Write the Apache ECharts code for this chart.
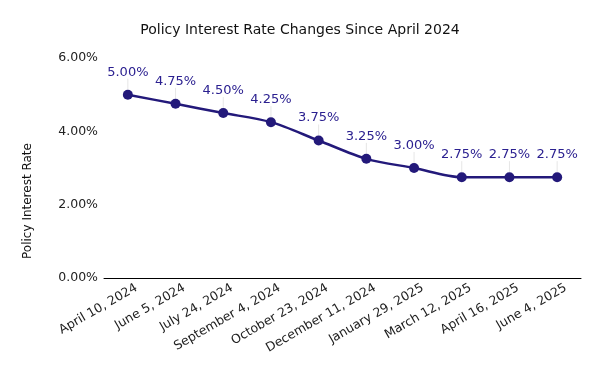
<!DOCTYPE html>
<html><head><meta charset="utf-8">
<script src="https://cdn.jsdelivr.net/npm/echarts@6/dist/echarts.min.js"></script>
<style>html,body{margin:0;padding:0;background:#fff}#c{width:600px;height:371px}</style>
</head><body><div id="c"></div>
<script>
const categories = ["April 10, 2024","June 5, 2024","July 24, 2024","September 4, 2024","October 23, 2024","December 11, 2024","January 29, 2025","March 12, 2025","April 16, 2025","June 4, 2025"];
const rates = [5.00, 4.75, 4.50, 4.25, 3.75, 3.25, 3.00, 2.75, 2.75, 2.75];
const yTicks = [0, 2, 4, 6];
const font = "DejaVu Sans";
const chart = echarts.init(document.getElementById('c'));
chart.setOption({
  animation: false,
  backgroundColor: '#fff',
  title: { text: 'Policy Interest Rate Changes Since April 2024', left: 'center', top: 18,
    textStyle: { fontFamily: font, fontSize: 14, fontWeight: 'normal', color: '#111' } },
  grid: { left: 104, right: 19, top: 58, bottom: 93 },
  graphic: [{ type: 'text', x: 28, y: 201, rotation: Math.PI/2,
    style: { text: 'Policy Interest Rate', font: '12px "DejaVu Sans"', fill: '#111', align: 'center', verticalAlign: 'middle' } }],
  xAxis: { type: 'category', data: categories, boundaryGap: true,
    axisLine: { lineStyle: { color: '#000', width: 1 } },
    axisTick: { alignWithLabel: true, length: 11, inside: true, lineStyle: { color: '#000' } },
    axisLabel: { rotate: 30, interval: 0, fontFamily: font, fontSize: 12.5, color: '#222', margin: 14, padding: [0, -10, 0, 0] } },
  yAxis: { type: 'value', min: 0, max: 6, interval: 2,
    axisLine: { show: false }, axisTick: { show: false }, splitLine: { show: false },
    axisLabel: { formatter: v => yTicks.includes(v) ? v.toFixed(2) + '%' : '', fontFamily: font, fontSize: 12.5, color: '#222', margin: 6 } },
  series: [{
    type: 'line', data: rates, smooth: 0.3, symbol: 'circle', symbolSize: 10,
    itemStyle: { color: '#23197a' }, lineStyle: { color: '#23197a', width: 2.5 },
    label: { show: true, position: 'top', distance: 5, formatter: p => p.value.toFixed(2) + '%',
      fontFamily: font, fontSize: 13, color: '#2b2090' },
    labelLayout: { dy: -6 },
    labelLine: { show: true, lineStyle: { color: '#e6e6e6', width: 1 } }
  }]
});
</script></body></html>
